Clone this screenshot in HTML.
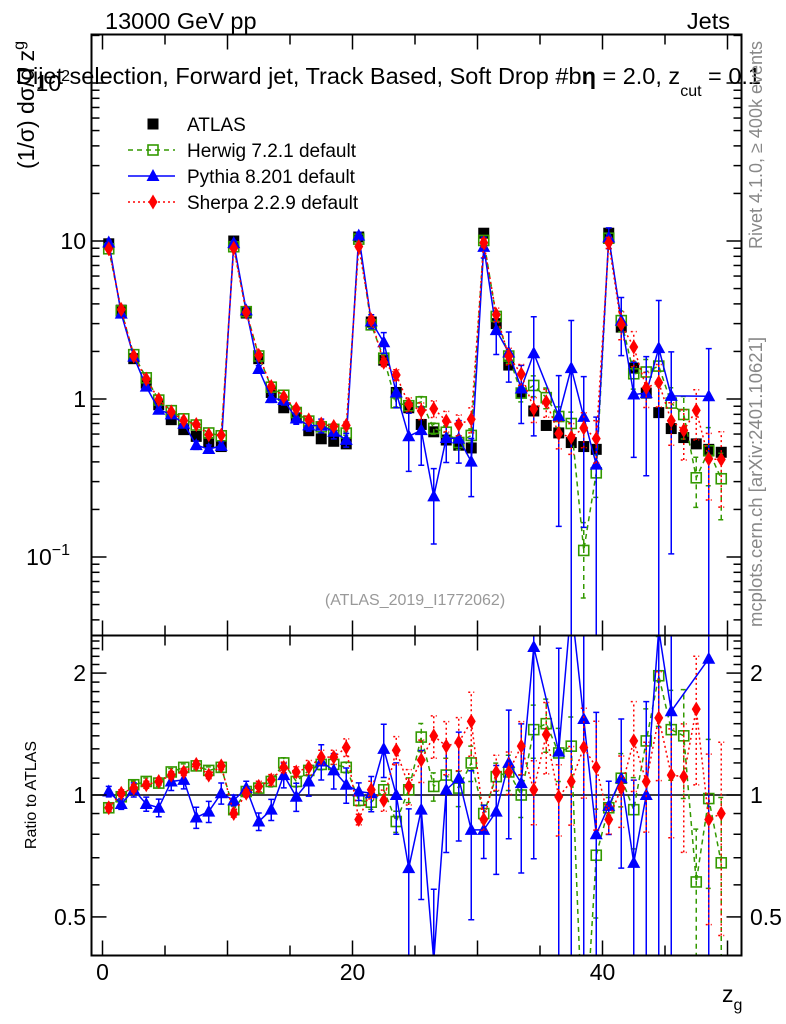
<!DOCTYPE html>
<html><head><meta charset="utf-8"><style>
body{margin:0;background:#fff;overflow:hidden;}
svg{display:block;font-family:"Liberation Sans",sans-serif;}
</style></head><body>
<svg id="chart" width="786" height="1024" viewBox="0 0 786 1024" xmlns="http://www.w3.org/2000/svg">
<g id="marks"></g>
<rect x="91.5" y="34.5" width="650" height="601" fill="none" stroke="#000" stroke-width="2"/>
<rect x="91.5" y="635.5" width="650" height="320" fill="none" stroke="#000" stroke-width="2"/>
<g id="axes"></g>
<text x="105" y="29" font-size="23.5">13000 GeV pp</text>
<text x="730" y="29" font-size="23.5" text-anchor="end">Jets</text>
<text x="16" y="84" font-size="23.5">Dijet selection, Forward jet, Track Based, Soft Drop #b<tspan font-weight="bold">η</tspan> = 2.0, z<tspan font-size="16" dy="12">cut</tspan><tspan dy="-12"> = 0.1</tspan></text>
<text transform="translate(34,105) rotate(-90)" font-size="23" text-anchor="middle">(1/σ) dσ/d z<tspan font-size="16" dy="-10">g</tspan></text>
<text transform="translate(36,795) rotate(-90)" font-size="16" text-anchor="middle">Ratio to ATLAS</text>
<text x="722" y="1002" font-size="23">z<tspan font-size="16" dy="8">g</tspan></text>
<text transform="translate(762,145) rotate(-90)" font-size="18" fill="#888" text-anchor="middle">Rivet 4.1.0, ≥ 400k events</text>
<text transform="translate(762,482) rotate(-90)" font-size="18.5" fill="#888" text-anchor="middle">mcplots.cern.ch [arXiv:2401.10621]</text>
<text x="415" y="605" font-size="16" fill="#999" text-anchor="middle">(ATLAS_2019_I1772062)</text>
<g id="legend"></g>
</svg>
<script>
const atlas=[9.6,3.65,1.8,1.26,0.92,0.74,0.64,0.58,0.53,0.5,10,3.5,1.8,1.1,0.88,0.76,0.63,0.56,0.54,0.52,10.6,3.07,1.76,1.1,0.88,0.69,0.62,0.55,0.51,0.49,11.2,3.0,1.64,1.09,0.84,0.68,0.61,0.53,0.5,0.48,11.2,2.85,1.57,1.09,0.82,0.65,0.57,0.52,0.48,0.46];
const herwigRatio=[0.93,0.99,1.06,1.08,1.07,1.14,1.17,1.18,1.15,1.17,0.92,1.02,1.04,1.08,1.2,1.08,1.15,1.19,1.19,1.17,0.97,0.96,1.03,0.86,1.03,1.39,1.05,1.12,1.04,1.2,0.9,1.11,1.14,1.0,1.45,1.5,1.27,1.32,0.22,0.71,0.93,1.1,0.92,1.36,1.97,1.45,1.4,0.61,0.98,0.68];
const pythiaRatio=[1.02,0.95,1.03,0.95,0.93,1.08,1.09,0.88,0.91,1.01,0.97,1.04,0.86,0.92,1.12,0.99,1.08,1.21,1.15,1.06,1.02,1.01,1.3,1.0,0.66,0.92,0.39,1.03,1.1,0.82,0.82,0.91,1.2,1.07,2.32,null,1.28,2.96,1.54,0.8,0.94,1.1,0.68,1.0,2.56,1.61,null,null,2.17,null];
const sherpaRatio=[0.93,1.01,1.04,1.06,1.08,1.12,1.14,1.19,1.12,1.18,0.9,1.01,1.05,1.09,1.17,1.14,1.17,1.24,1.24,1.31,0.87,1.03,0.97,1.29,1.05,1.22,1.4,1.32,1.35,1.52,0.87,1.14,1.14,1.32,1.03,1.41,0.99,1.08,1.31,1.17,0.87,1.04,1.36,1.08,1.55,1.12,1.11,1.63,0.87,0.9];
const herwigErr=[0.02,0.02,0.02,0.02,0.02,0.02,0.02,0.02,0.02,0.02,0.02,0.02,0.02,0.03,0.03,0.03,0.03,0.03,0.03,0.03,0.03,0.04,0.05,0.06,0.07,0.08,0.08,0.1,0.1,0.1,0.05,0.08,0.1,0.12,0.15,0.15,0.15,0.18,0.5,0.3,0.06,0.15,0.2,0.2,0.25,0.25,0.3,0.35,0.4,0.45];
const pythiaErr=[0.03,0.03,0.04,0.04,0.05,0.05,0.05,0.06,0.06,0.06,0.03,0.04,0.05,0.06,0.07,0.08,0.08,0.1,0.1,0.1,0.05,0.1,0.15,0.2,0.4,0.4,0.5,0.3,0.3,0.4,0.15,0.3,0.35,0.4,0.7,0,0.8,1,0.8,1,0.15,0.4,0.6,0.7,1,0.9,0,0,1,0];
const sherpaErr=[0.02,0.02,0.02,0.02,0.02,0.02,0.02,0.02,0.02,0.02,0.02,0.02,0.03,0.03,0.03,0.03,0.04,0.04,0.04,0.05,0.03,0.05,0.06,0.08,0.1,0.12,0.12,0.15,0.15,0.18,0.06,0.1,0.12,0.15,0.18,0.2,0.2,0.22,0.25,0.3,0.08,0.2,0.25,0.25,0.3,0.3,0.35,0.35,0.45,0.5];
const xTickLabels=[0,20,40];
const mainTickLabels=[{v:0.1,t:"10",s:"−1"},{v:1,t:"1",s:""},{v:10,t:"10",s:""},{v:100,t:"10",s:"2"}];
const ratioTickLabels=[0.5,1,2];

const NS="http://www.w3.org/2000/svg";
const X0=91.5,X1=741.5,MT=34.5,MB=635.5,RT=635.5,RB=955.5;
const xs=v=>102.5+12.5*v;
const ym=v=>399-158*Math.log10(v);
const yr=v=>795-405*Math.log10(v);
const marks=document.getElementById('marks'),axes=document.getElementById('axes'),leg=document.getElementById('legend');
function el(tag,attrs,parent){const e=document.createElementNS(NS,tag);for(const k in attrs)e.setAttribute(k,attrs[k]);parent.appendChild(e);return e;}
const defs=el('defs',{},marks);
const c1=el('clipPath',{id:'cm'},defs);el('rect',{x:X0,y:MT,width:650,height:601},c1);
const c2=el('clipPath',{id:'cr'},defs);el('rect',{x:X0,y:RT,width:650,height:320},c2);
const gm=el('g',{'clip-path':'url(#cm)'},marks);
const gr=el('g',{'clip-path':'url(#cr)'},marks);




const one=el('line',{x1:X0,x2:X1,y1:yr(1),y2:yr(1),stroke:'#000','stroke-width':1.5},gr);



function marker(type,x,y,color,g){
  let m;
  if(type==='sq') m=el('rect',{x:x-5.5,y:y-5.5,width:11,height:11,fill:'#000'},g);
  else if(type==='osq') m=el('rect',{x:x-5,y:y-5,width:10,height:10,fill:'#fff','fill-opacity':0,stroke:color,'stroke-width':1.6},g);
  else if(type==='tri') m=el('polygon',{points:`${x},${y-7} ${x-6.5},${y+5} ${x+6.5},${y+5}`,fill:color},g);
  else m=el('polygon',{points:`${x},${y-7.5} ${x+4.5},${y} ${x},${y+7.5} ${x-4.5},${y}`,fill:color},g);
  return m;
}
const ag=el('g',{},gm);


atlas.forEach((v,i)=>{
  const m=marker('sq',xs(i+0.5),ym(v),'#000',ag);
  
  
});
const series=[
 {name:'herwig',ratio:herwigRatio,err:herwigErr,color:'#339900',dash:'5,4',type:'osq',label:'Herwig 7.2.1 default'},
 {name:'pythia',ratio:pythiaRatio,err:pythiaErr,color:'#0000ff',dash:'',type:'tri',label:'Pythia 8.201 default'},
 {name:'sherpa',ratio:sherpaRatio,err:sherpaErr,color:'#ff0000',dash:'2,3',type:'dia',label:'Sherpa 2.2.9 default'}
];
series.forEach(s=>{
  [['main',gm],['ratio',gr]].forEach(([pan,g])=>{
    const sg=el('g',{},g);
    
    
    const f=pan==='main'?ym:yr;
    const ptsArr=[];
    s.ratio.forEach((r,i)=>{
      if(r===null) return;
      const v=pan==='main'?atlas[i]*r:r;
      const x=xs(i+0.5),y=f(v);
      ptsArr.push(x+','+y);
      const e=s.err[i];
      if(e>0){
        const lo=Math.max(v*(1-e),1e-4),hi=v*(1+e);
        const eb=el('path',{d:`M${x},${f(lo)}L${x},${f(hi)}M${x-3},${f(lo)}L${x+3},${f(lo)}M${x-3},${f(hi)}L${x+3},${f(hi)}`,stroke:s.color,'stroke-width':1.5,'stroke-dasharray':s.dash,fill:'none'},sg);
        
        
      }
    });
    const pl=el('polyline',{points:ptsArr.join(' '),fill:'none',stroke:s.color,'stroke-width':1.5,'stroke-dasharray':s.dash},sg);
    
    
    s.ratio.forEach((r,i)=>{
      if(r===null) return;
      const v=pan==='main'?atlas[i]*r:r;
      const m=marker(s.type,xs(i+0.5),f(v),s.color,sg);
      
      
    });
  });
});
for(let v=0;v<=50;v++){
  const x=xs(v);if(x>X1)break;
  const len=v%10===0?15:(v%5===0?10:0);
  if(!len)continue;
  [[MT,1],[MB,-1],[RT,1],[RB,-1]].forEach(([y,d])=>{
    const t=el('line',{x1:x,x2:x,y1:y,y2:y+d*len,stroke:'#000','stroke-width':1.5},axes);
    
    
  });
}
xTickLabels.forEach(v=>{
  const t=el('text',{x:xs(v),y:980,'font-size':23,'text-anchor':'middle'},axes);t.textContent=v;
  
  
});
for(let e=-2;e<=2;e++){for(let k=1;k<10;k++){
  const v=k*Math.pow(10,e),y=ym(v);if(y<MT||y>MB)continue;
  const len=k===1?15:8;
  [[X0,1],[X1,-1]].forEach(([x,d])=>{
    const t=el('line',{x1:x,x2:x+d*len,y1:y,y2:y,stroke:'#000','stroke-width':1.5},axes);
    
    
  });
}}
mainTickLabels.forEach(o=>{
  const t=el('text',{x:o.s?70:86,y:ym(o.v)+8,'font-size':23,'text-anchor':'end'},axes);
  t.textContent=o.t;
  if(o.s){const s=el('tspan',{'font-size':16,dy:-10},t);s.textContent=o.s;}
  
  
});
[0.4,0.5,0.6,0.7,0.8,0.9,1,1.1,1.2,1.3,1.4,1.5,1.6,1.7,1.8,1.9,2,2.1,2.2,2.3,2.4].forEach(v=>{
  const y=yr(v);if(y<RT||y>RB)return;
  const len=(v===0.5||v===1||v===2)?15:8;
  [[X0,1],[X1,-1]].forEach(([x,d])=>{
    const t=el('line',{x1:x,x2:x+d*len,y1:y,y2:y,stroke:'#000','stroke-width':1.5},axes);
    
    
  });
});
ratioTickLabels.forEach(v=>{
  [[86,'end'],[750,'start']].forEach(([x,a])=>{
    const t=el('text',{x:x,y:yr(v)+8,'font-size':23,'text-anchor':a},axes);t.textContent=v;
    
    
  });
});
const lrows=[{label:'ATLAS',type:'sq',color:'#000',dash:null}].concat(series);
lrows.forEach((s,i)=>{
  const y=124+i*26;
  const g=el('g',{},leg);
  
  
  if(s.dash!==null){el('line',{x1:128,x2:175,y1:y,y2:y,stroke:s.color,'stroke-width':1.5,'stroke-dasharray':s.dash},g);}
  marker(s.type,153,y,s.color,g);
  const t=el('text',{x:187,y:y+7,'font-size':19},g);t.textContent=s.label;
});
</script>
</body></html>
